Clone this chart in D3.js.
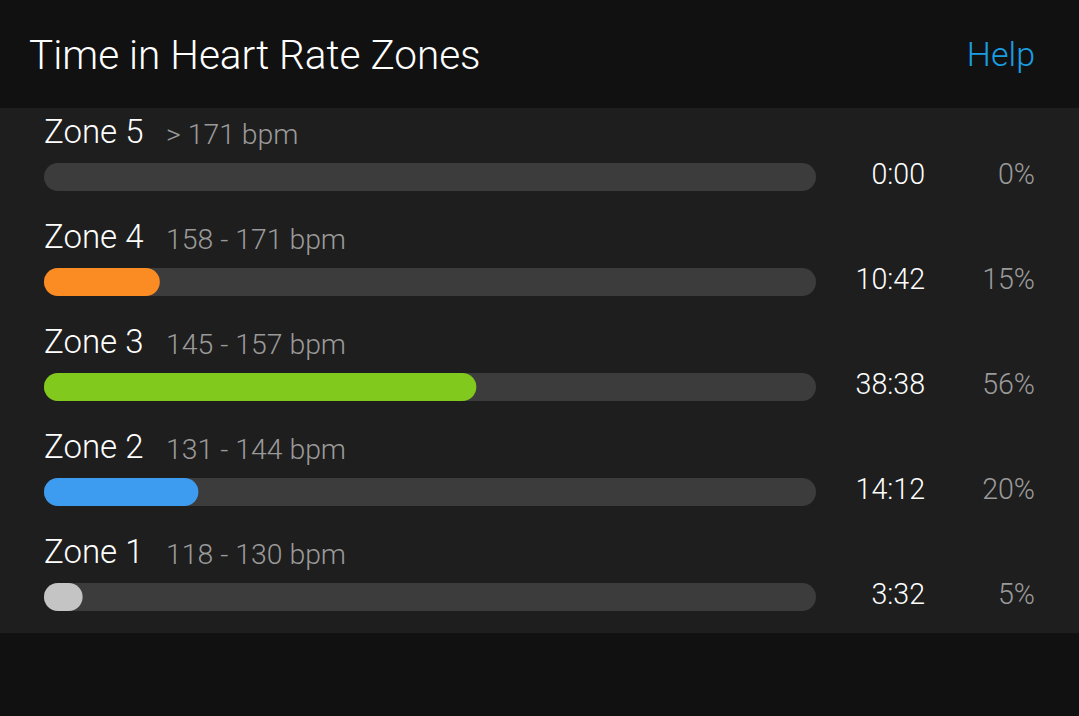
<!DOCTYPE html>
<html><head><meta charset="utf-8">
<script src="https://cdn.jsdelivr.net/npm/d3@7"></script>
<style>
html,body{margin:0;padding:0;background:#111111;}
svg{display:block;font-family:Roboto,"Noto Sans",sans-serif;font-weight:300;}
</style></head>
<body>
<svg id="chart" width="1079" height="716"></svg>
<script>
const zones = ["Zone 5","Zone 4","Zone 3","Zone 2","Zone 1"];
const ranges = ["> 171 bpm","158 - 171 bpm","145 - 157 bpm","131 - 144 bpm","118 - 130 bpm"];
const times = ["0:00","10:42","38:38","14:12","3:32"];
const percents = [0,15,56,20,5];
const colors = ["#fb8c24","#fb8c24","#82c91e","#3d9bf0","#c4c4c4"];

const svg = d3.select("#chart");
const W = 1079, H = 716;

svg.append("rect").attr("width",W).attr("height",H).attr("fill","#111111");
svg.append("rect").attr("x",0).attr("y",108).attr("width",W).attr("height",525).attr("fill","#1e1e1e");

svg.append("text").attr("x",29).attr("y",69).attr("fill","#ffffff")
  .attr("font-size",40.5).text("Time in Heart Rate Zones");
svg.append("text").attr("x",1035).attr("y",66).attr("text-anchor","end").attr("fill","#1a9de2")
  .attr("font-size",34).text("Help");

const y = d3.scaleBand().domain(zones).range([163, 163+105*5]).paddingInner(0).paddingOuter(0);
const x = d3.scaleLinear().domain([0,100]).range([0, 772]);
const x0 = 44, barH = 28;

const row = svg.selectAll("g.row").data(zones).join("g").attr("class","row")
  .attr("transform", d => `translate(0,${y(d)})`);

row.append("text").attr("x",x0).attr("y",-20).attr("fill","#ffffff").attr("font-size",33).text(d=>d);
row.each(function(d,i){
  const g = d3.select(this);
  g.append("text").attr("x",166).attr("y",-19).attr("fill","#9a9a9a").attr("font-size",28.4).text(ranges[i]);
  g.append("rect").attr("x",x0).attr("y",0).attr("width",x(100)).attr("height",barH)
    .attr("rx",barH/2).attr("fill","#3c3c3c");
  if (percents[i] > 0) {
    g.append("rect").attr("x",x0).attr("y",0).attr("width",Math.max(x(percents[i]),barH)).attr("height",barH)
      .attr("rx",barH/2).attr("fill",colors[i]);
  }
  g.append("text").attr("x",925).attr("y",21).attr("text-anchor","end").attr("fill","#ffffff")
    .attr("font-size",28.6).text(times[i]);
  g.append("text").attr("x",1035).attr("y",21).attr("text-anchor","end").attr("fill","#9a9a9a")
    .attr("font-size",28.6).text(percents[i]+"%");
});
</script>
</body></html>
